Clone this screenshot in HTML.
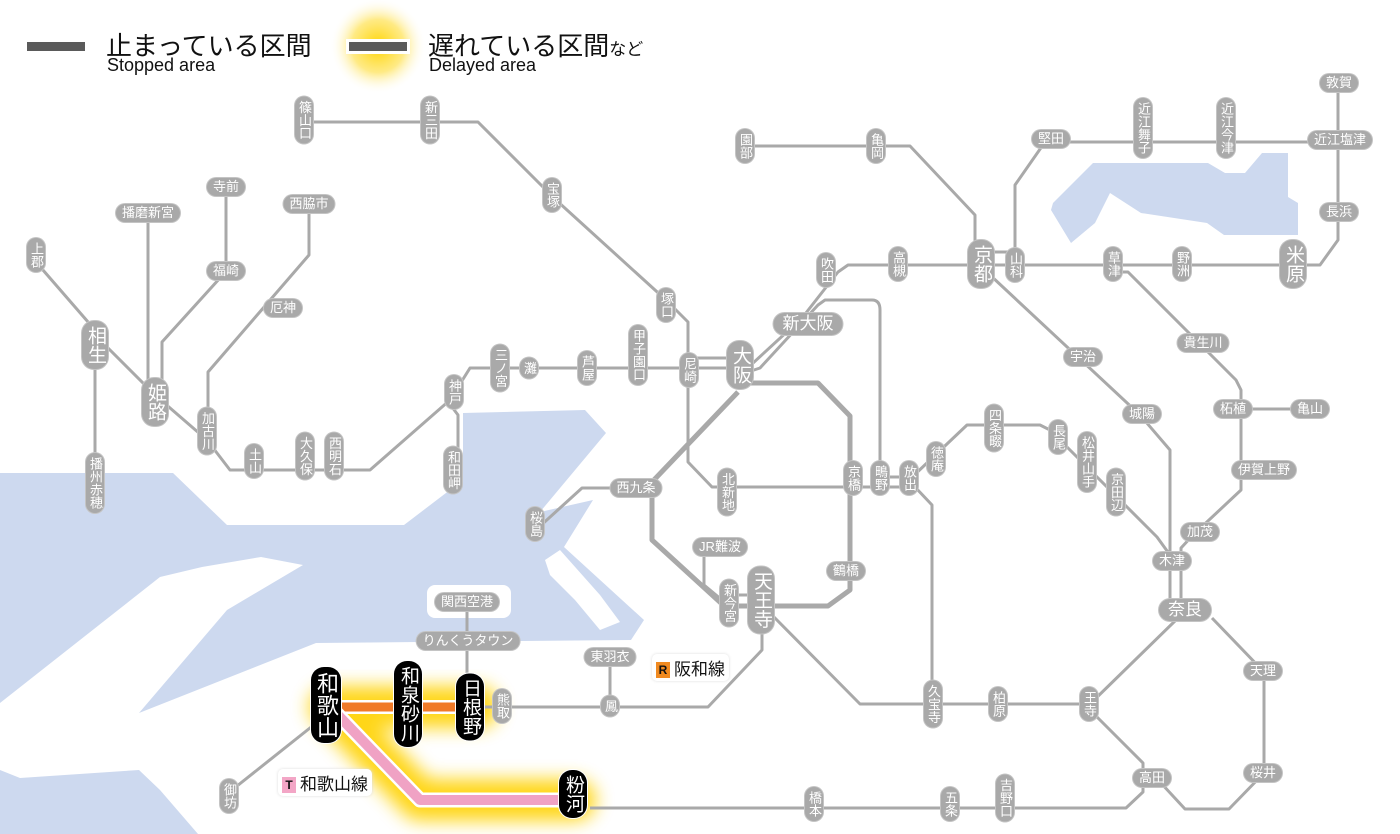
<!DOCTYPE html>
<html><head><meta charset="utf-8">
<style>
html,body{margin:0;padding:0}
body{width:1400px;height:834px;position:relative;overflow:hidden;background:#fff;font-family:"Liberation Sans","Noto Sans CJK JP",sans-serif}
svg{position:absolute;left:0;top:0}
.s{position:absolute;transform:translate(-50%,-50%);background:#a9a9a9;color:#fff;font-size:13px;line-height:16px;border-radius:9px;white-space:nowrap;box-shadow:0 0 0 1px #c4c4c4}
.v{writing-mode:vertical-rl;padding:4px 1px}
.h{padding:1px 6px}
.b{font-size:19px;line-height:22px;padding:5px 2px;border-radius:12px}
.hb{font-size:17px;line-height:20px;padding:1px 9px;border-radius:11px}
.k{background:#000;box-shadow:0 0 0 1px #fff;font-size:19px;line-height:24px;padding:5px 2px;border-radius:13px}
.lg{position:absolute;color:#111;white-space:nowrap}
.tag{position:absolute;background:#fff;border-radius:5px;box-shadow:0 0 3px #ddd;font-size:17px;color:#111;padding:1px 4px;white-space:nowrap}
.tag i{font-style:normal;display:inline-block;width:14px;height:16px;line-height:16px;text-align:center;font-size:12px;font-weight:bold;margin-right:4px;vertical-align:1px}
</style></head><body>
<svg width="1400" height="834" viewBox="0 0 1400 834">
<defs>
<filter id="bl" x="-20%" y="-40%" width="140%" height="180%"><feGaussianBlur stdDeviation="9"/></filter>
<radialGradient id="rg"><stop offset="0" stop-color="#ffd400"/><stop offset="0.55" stop-color="#ffe566" stop-opacity="0.8"/><stop offset="1" stop-color="#fff" stop-opacity="0"/></radialGradient>
</defs>
<g fill="#cdd9ef">
<polygon points="0,473 173,473 227,525 404,525 463,480 463,413 585,410 606,433 540,512 593,500 564,547 644,620 631,640 316,643 139,713 139,770 160,790 198,834 0,834"/>
<polygon points="1053,203 1093,163 1208,163 1225,173 1245,173 1262,153 1288,153 1288,197 1298,203 1298,235 1224,235 1207,223 1141,213 1110,193 1095,223 1071,243 1051,210"/>
</g>
<g fill="#fff">
<polygon points="0,703 160,577 202,567 261,557 303,565 227,610 139,713 139,770 20,778 0,770"/>
<rect x="427" y="585" width="84" height="33" rx="8"/>
<polygon points="545,560 560,550 600,595 620,622 600,630 575,600 550,575"/>
</g>
<g filter="url(#bl)" stroke="#ffd200" stroke-width="42" fill="none" stroke-linejoin="round" stroke-linecap="round" opacity="0.9">
<path d="M330 707 H478"/>
<path d="M335 712 L420 800 H575"/>
</g>
<g stroke="#a9a9a9" stroke-width="3" fill="none" stroke-linejoin="round">
<path d="M304 122 H478 L556 200 L666 300 L688 322 V462 L712 487 H915"/>
<path d="M880 477 H908"/>
<path d="M36 262 L95 330 M95 330 V490 M95 335 L155 395 L207 440 L230 470 H370 L450 400 L470 368 H740"/>
<path d="M689 358 H740"/>
<path d="M449 403 L458 415 V470"/>
<path d="M148 222 V390 M226 195 V265 M220 278 L162 342 V390 M309 212 V255 L208 372 V420"/>
<path d="M740 375 L802 318 L838 272 L848 265 H1320 L1338 240 V82"/>
<path d="M748 372 L760 368 L818 305 L825 300 H872 Q880 300 880 310 V480"/>
<path d="M652 488 H582 L538 528"/>
<path d="M704 555 V585 L722 600"/>
<path d="M762 612 V650 L708 707 H485"/>
<path d="M610 665 V705 M467 610 V690"/>
<path d="M770 613 L860 704 H1090 L1176 620 M1096 716 L1143 763 V778"/>
<path d="M590 808 H1126 L1143 792 V778"/>
<path d="M1160 782 L1185 809 H1229 L1264 773 V672 L1212 618"/>
<path d="M990 275 L1140 415 L1170 450 V610 M1181 560 V610"/>
<path d="M1113 272 H1128 L1236 380 L1241 390 V490 L1193 535 L1181 548 V560"/>
<path d="M1241 409 H1311"/>
<path d="M909 480 L967 425 H1040 L1050 430 L1157 537 L1170 555"/>
<path d="M915 487 L932 505 V704"/>
<path d="M1015 265 V185 L1045 142 H1340"/>
<path d="M745 146 H910 L975 215 V262 M981 252 H1015"/>
<path d="M729 595 H761"/>
<path d="M320 720 L232 790"/>
</g>
<g stroke="#a9a9a9" stroke-width="5" fill="none" stroke-linejoin="round">
<path d="M745 383 H818 L850 416 V590 L828 606 H730"/>
<path d="M738 392 L652 482 V540 L722 604 H730"/>
</g>
<path d="M330 707 H470" stroke="#fff" stroke-width="14" fill="none"/>
<path d="M330 707 H470" stroke="#f07a28" stroke-width="9" fill="none"/>
<path d="M335 712 L420 800 H575" stroke="#fff" stroke-width="15" fill="none" stroke-linejoin="round"/>
<path d="M335 712 L420 800 H575" stroke="#f0a2c4" stroke-width="10" fill="none" stroke-linejoin="round"/>
<circle cx="378" cy="46" r="48" fill="url(#rg)"/>
<rect x="27" y="42" width="58" height="9" fill="#5a5a5a"/>
<rect x="346" y="39" width="64" height="15" fill="#fff"/>
<rect x="349" y="42" width="58" height="9" fill="#5a5a5a"/>
</svg>

<div class="lg" style="left:106px;top:26px;font-size:26px">止まっている区間</div>
<div class="lg" style="left:107px;top:55px;font-size:18px">Stopped area</div>
<div class="lg" style="left:428px;top:26px;font-size:26px">遅れている区間<span style="font-size:17px">など</span></div>
<div class="lg" style="left:429px;top:55px;font-size:18px">Delayed area</div>

<div class="s v" style="left:304px;top:120px">篠山口</div>
<div class="s v" style="left:430px;top:120px">新三田</div>
<div class="s v" style="left:552px;top:195px">宝塚</div>
<div class="s h" style="left:148px;top:213px">播磨新宮</div>
<div class="s h" style="left:226px;top:187px">寺前</div>
<div class="s h" style="left:309px;top:204px">西脇市</div>
<div class="s v" style="left:36px;top:255px">上郡</div>
<div class="s h" style="left:226px;top:271px">福崎</div>
<div class="s h" style="left:283px;top:308px">厄神</div>
<div class="s v b" style="left:95px;top:345px">相生</div>
<div class="s v b" style="left:155px;top:402px">姫路</div>
<div class="s v" style="left:207px;top:431px">加古川</div>
<div class="s v" style="left:95px;top:483px">播州赤穂</div>
<div class="s v" style="left:254px;top:461px">土山</div>
<div class="s v" style="left:305px;top:456px">大久保</div>
<div class="s v" style="left:334px;top:456px">西明石</div>
<div class="s v" style="left:454px;top:392px">神戸</div>
<div class="s v" style="left:453px;top:470px">和田岬</div>
<div class="s v" style="left:500px;top:368px">三ノ宮</div>
<div class="s v" style="left:529px;top:368px">灘</div>
<div class="s v" style="left:587px;top:368px">芦屋</div>
<div class="s v" style="left:638px;top:355px">甲子園口</div>
<div class="s v" style="left:689px;top:370px">尼崎</div>
<div class="s v" style="left:666px;top:305px">塚口</div>
<div class="s v b" style="left:740px;top:365px">大阪</div>
<div class="s h hb" style="left:808px;top:324px">新大阪</div>
<div class="s v" style="left:826px;top:270px">吹田</div>
<div class="s v" style="left:898px;top:264px">高槻</div>
<div class="s v b" style="left:981px;top:264px">京都</div>
<div class="s v" style="left:1015px;top:265px">山科</div>
<div class="s v" style="left:1113px;top:264px">草津</div>
<div class="s v" style="left:1182px;top:264px">野洲</div>
<div class="s v b" style="left:1293px;top:264px">米原</div>
<div class="s h" style="left:1339px;top:212px">長浜</div>
<div class="s h" style="left:1340px;top:140px">近江塩津</div>
<div class="s h" style="left:1339px;top:83px">敦賀</div>
<div class="s v" style="left:1143px;top:128px">近江舞子</div>
<div class="s v" style="left:1226px;top:128px">近江今津</div>
<div class="s h" style="left:1051px;top:139px">堅田</div>
<div class="s v" style="left:745px;top:146px">園部</div>
<div class="s v" style="left:876px;top:146px">亀岡</div>
<div class="s h" style="left:1083px;top:357px">宇治</div>
<div class="s h" style="left:1142px;top:414px">城陽</div>
<div class="s h" style="left:1203px;top:343px">貴生川</div>
<div class="s h" style="left:1233px;top:409px">柘植</div>
<div class="s h" style="left:1310px;top:409px">亀山</div>
<div class="s h" style="left:1264px;top:470px">伊賀上野</div>
<div class="s h" style="left:1200px;top:532px">加茂</div>
<div class="s h" style="left:1172px;top:561px">木津</div>
<div class="s h hb" style="left:1185px;top:610px">奈良</div>
<div class="s h" style="left:1263px;top:671px">天理</div>
<div class="s h" style="left:1263px;top:773px">桜井</div>
<div class="s h" style="left:1152px;top:778px">高田</div>
<div class="s v" style="left:1089px;top:704px">王寺</div>
<div class="s v" style="left:998px;top:704px">柏原</div>
<div class="s v" style="left:933px;top:704px">久宝寺</div>
<div class="s v" style="left:909px;top:478px">放出</div>
<div class="s v" style="left:880px;top:478px">鴫野</div>
<div class="s v" style="left:853px;top:478px">京橋</div>
<div class="s v" style="left:936px;top:459px">徳庵</div>
<div class="s v" style="left:994px;top:428px">四条畷</div>
<div class="s v" style="left:1058px;top:437px">長尾</div>
<div class="s v" style="left:1087px;top:462px">松井山手</div>
<div class="s v" style="left:1116px;top:492px">京田辺</div>
<div class="s v" style="left:727px;top:492px">北新地</div>
<div class="s h" style="left:636px;top:488px">西九条</div>
<div class="s v" style="left:535px;top:524px">桜島</div>
<div class="s h" style="left:720px;top:547px">JR難波</div>
<div class="s h" style="left:846px;top:571px">鶴橋</div>
<div class="s v" style="left:729px;top:603px">新今宮</div>
<div class="s v b" style="left:761px;top:600px">天王寺</div>
<div class="s h" style="left:467px;top:602px">関西空港</div>
<div class="s h" style="left:468px;top:641px">りんくうタウン</div>
<div class="s h" style="left:610px;top:657px">東羽衣</div>
<div class="s v" style="left:610px;top:706px">鳳</div>
<div class="s v" style="left:502px;top:706px">熊取</div>
<div class="s v" style="left:229px;top:796px">御坊</div>
<div class="s v" style="left:814px;top:804px">橋本</div>
<div class="s v" style="left:950px;top:804px">五条</div>
<div class="s v" style="left:1005px;top:798px">吉野口</div>

<div class="s v k" style="left:326px;top:705px;font-size:22px;line-height:26px">和歌山</div>
<div class="s v k" style="left:408px;top:704px">和泉砂川</div>
<div class="s v k" style="left:470px;top:707px">日根野</div>
<div class="s v k" style="left:573px;top:794px">粉河</div>

<div class="tag" style="left:652px;top:654px"><i style="background:#f08a20;color:#111">R</i>阪和線</div>
<div class="tag" style="left:278px;top:769px"><i style="background:#f3a6c6;color:#111">T</i>和歌山線</div>
</body></html>
